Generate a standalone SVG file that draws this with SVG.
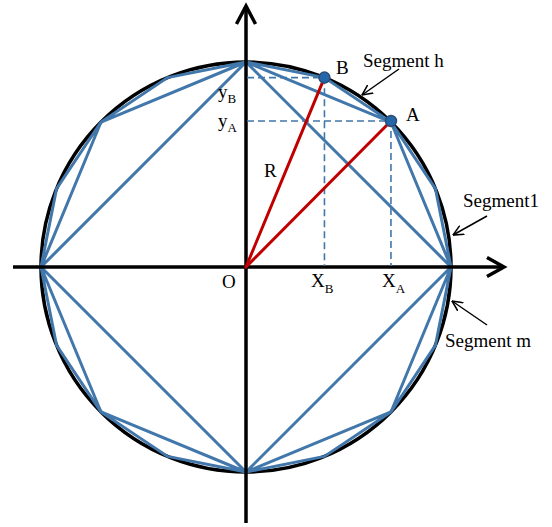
<svg xmlns="http://www.w3.org/2000/svg" width="552" height="527" viewBox="0 0 552 527">
<style>
.poly{stroke:#4177AA;stroke-width:3;fill:none;stroke-linecap:round}
.axis{stroke:#000;stroke-width:3.5;fill:none}
.dash{stroke:#4177AA;stroke-width:1.6;stroke-dasharray:7 4;fill:none}
.red{stroke:#C00000;stroke-width:3;fill:none;stroke-linecap:round}
.pt{fill:#2366AA;stroke:#2C4D75;stroke-width:1.5}
.lbl{font-family:"Liberation Serif","Times New Roman",serif;font-size:19px;fill:#000}
.sub{font-size:13px}
.ptr{stroke:#000;stroke-width:1.5;fill:none}
</style>
<defs>
<marker id="open" viewBox="0 0 10 10" refX="9.5" refY="5" markerWidth="11" markerHeight="11" markerUnits="userSpaceOnUse" orient="auto">
<path d="M0,0.5 L9.5,5 L0,9.5" fill="none" stroke="#000" stroke-width="1.4"/>
</marker>
</defs>
<rect width="552" height="527" fill="#fff"/>
<g id="circle"><circle cx="246" cy="267" r="205" fill="none" stroke="#000" stroke-width="3.5"/></g>
<g id="polygon">
<!-- Q1 -->
<path class="poly" d="M451,267 L246,62 M451,267 L390.96,122.04 L246,62 M451,267 L435.4,188.55 L390.96,122.04 L324.45,77.6 L246,62"/>
<!-- Q2 -->
<path class="poly" d="M41,267 L246,62 M41,267 L101.04,122.04 L246,62 M41,267 L56.6,188.55 L101.04,122.04 L167.55,77.6 L246,62"/>
<!-- Q3 -->
<path class="poly" d="M41,267 L246,472 M41,267 L101.04,411.96 L246,472 M41,267 L56.6,345.45 L101.04,411.96 L167.55,456.4 L246,472"/>
<!-- Q4 -->
<path class="poly" d="M451,267 L246,472 M451,267 L390.96,411.96 L246,472 M451,267 L435.4,345.45 L390.96,411.96 L324.45,456.4 L246,472"/>
</g>
<g id="axes">
<line class="axis" x1="13" y1="267" x2="504" y2="267"/>
<polyline class="axis" points="487,257.5 504,267 487,276.5"/>
<line class="axis" x1="246" y1="523" x2="246" y2="6"/>
<polyline class="axis" points="236.5,24 246,6 255.5,24"/>
</g>
<g id="projections">
<path class="dash" d="M247,77.6 H324.45 V266 M247,121 H390.96 V266"/>
</g>
<g id="radii">
<line class="red" x1="246" y1="267" x2="324.45" y2="77.6"/>
<line class="red" x1="246" y1="267" x2="390.96" y2="121"/>
</g>
<g id="point-B"><circle class="pt" cx="324.45" cy="77.6" r="5.5"/><text class="lbl" x="336" y="74">B</text></g>
<g id="point-A"><circle class="pt" cx="390.96" cy="121" r="5.5"/><text class="lbl" x="406" y="121">A</text></g>
<g id="labels">
<text class="lbl" x="264" y="177">R</text>
<text class="lbl" x="222" y="288">O</text>
<text class="lbl" x="218" y="98">y<tspan class="sub" dy="5">B</tspan></text>
<text class="lbl" x="218" y="127">y<tspan class="sub" dy="5">A</tspan></text>
<text class="lbl" x="311" y="287">X<tspan class="sub" dy="6">B</tspan></text>
<text class="lbl" x="382" y="287">X<tspan class="sub" dy="6">A</tspan></text>
</g>
<g id="segment-h"><text class="lbl" x="363" y="67">Segment h</text></g>
<g id="segment-1"><text class="lbl" x="463" y="207">Segment1</text></g>
<g id="segment-m"><text class="lbl" x="445" y="347">Segment m</text></g>
<g id="connectors">
<line class="ptr" x1="399" y1="69" x2="362" y2="95" marker-end="url(#open)"/>
<line class="ptr" x1="487" y1="216" x2="453" y2="235" marker-end="url(#open)"/>
<line class="ptr" x1="487" y1="325" x2="452" y2="301" marker-end="url(#open)"/>
</g>
</svg>
